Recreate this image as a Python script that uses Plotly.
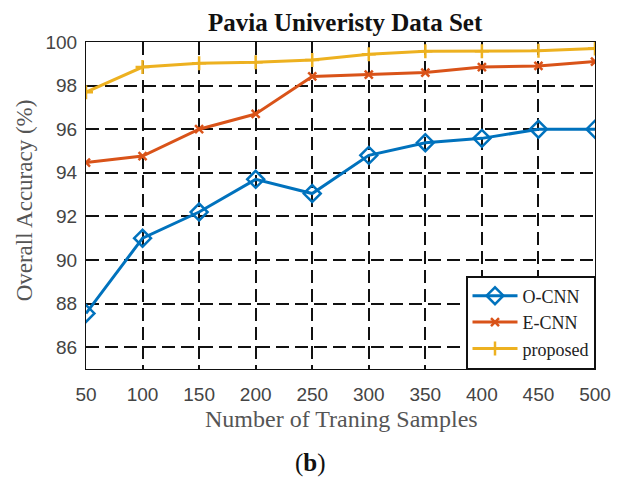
import plotly.graph_objects as go

samples = [50, 100, 150, 200, 250, 300, 350, 400, 450, 500]
o_cnn = [87.55, 91.0, 92.2, 93.7, 93.05, 94.8, 95.38, 95.58, 96.0, 96.0]
e_cnn = [94.47, 94.77, 96.0, 96.7, 98.42, 98.5, 98.6, 98.85, 98.9, 99.1]
proposed = [97.7, 98.85, 99.02, 99.07, 99.18, 99.44, 99.57, 99.57, 99.6, 99.7]
y_ticks = [86, 88, 90, 92, 94, 96, 98, 100]

C_O = "#0072BD"
C_E = "#D95319"
C_P = "#EDB120"
SERIF = "Liberation Serif, Times New Roman, serif"
SANS = "Liberation Sans, Arial, sans-serif"

# the page body adds an 8px offset; size the figure to the visible area
OFF = 8
W, H = 623 - OFF, 482 - OFF
ML, MR, MT, MB = 86 - OFF, 25, 42 - OFF, 113
PW = W - ML - MR
PH = H - MT - MB


def px_x(px):
    return (px - OFF - ML) / PW


def px_y(py):
    return (H - MB - (py - OFF)) / PH


fig = go.Figure()
fig.add_trace(go.Scatter(
    x=samples, y=o_cnn, name="O-CNN", mode="lines+markers",
    line=dict(color=C_O, width=3),
    marker=dict(symbol="diamond-open", size=13, color=C_O, line=dict(width=2.5, color=C_O)),
))
fig.add_trace(go.Scatter(
    x=samples, y=e_cnn, name="E-CNN", mode="lines+markers",
    line=dict(color=C_E, width=3),
    marker=dict(symbol="x-thin", size=8, color=C_E, line=dict(width=2.5, color=C_E)),
))
fig.add_trace(go.Scatter(
    x=samples, y=proposed, name="proposed", mode="lines+markers",
    line=dict(color=C_P, width=3),
    marker=dict(symbol="cross-thin", size=10, color=C_P, line=dict(width=2.5, color=C_P)),
))

grid_common = dict(
    showgrid=True, gridcolor="#111111", gridwidth=2, griddash="13px,6px",
    showline=True, linecolor="#111111", linewidth=1, mirror=True,
    zeroline=False, ticks="",
    tickfont=dict(family=SANS, size=19, color="#444444"),
)

fig.update_xaxes(range=[50, 500], tickvals=samples, ticklabelstandoff=8, **grid_common)
fig.update_yaxes(range=[85, 100], tickvals=y_ticks, ticklabelstandoff=4, **grid_common)

ann_common = dict(xref="paper", yref="paper", showarrow=False, xanchor="center", yanchor="middle")

fig.update_layout(
    width=W, height=H,
    margin=dict(l=ML, r=MR, t=MT, b=MB),
    paper_bgcolor="white", plot_bgcolor="white",
    showlegend=True,
    legend=dict(
        x=1, y=0, xanchor="right", yanchor="bottom",
        bgcolor="white", bordercolor="#111111", borderwidth=1.5,
        font=dict(family=SERIF, size=18, color="#222222"),
        tracegroupgap=0, itemwidth=45,
    ),
    annotations=[
        dict(text="<b>Pavia Univeristy Data Set</b>", x=px_x(347), y=px_y(23),
             font=dict(family=SERIF, size=25, color="#111111"), **ann_common),
        dict(text="Number of Traning Samples", x=px_x(343), y=px_y(419),
             font=dict(family=SERIF, size=24, color="#555555"), **ann_common),
        dict(text="(<b>b</b>)", x=px_x(312), y=px_y(463),
             font=dict(family=SERIF, size=25, color="#111111"), **ann_common),
        dict(text="Overall Accuracy (%)", x=px_x(25), y=px_y(200), textangle=-90,
             font=dict(family=SERIF, size=23, color="#555555"), **ann_common),
    ],
)

fig.write_html("out.html")
